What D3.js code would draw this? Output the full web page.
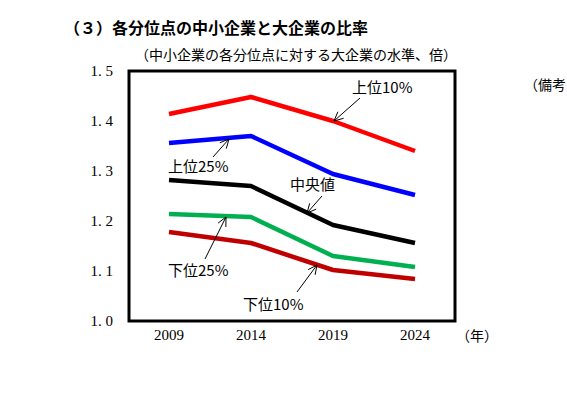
<!DOCTYPE html>
<html>
<head>
<meta charset="utf-8">
<style>
body { margin: 0; background: #fff; }
text { font-family: "Noto Sans CJK JP", sans-serif; }
.num { font-family: "Liberation Serif", "DejaVu Serif", serif; font-size: 15px; }
</style>
</head>
<body>
<div id="chart"></div>
<script src="https://d3js.org/d3.v7.min.js"></script>
<script>
var years = ["2009", "2014", "2019", "2024"];
var top10 = [1.414, 1.448, 1.400, 1.340];
var top25 = [1.356, 1.370, 1.294, 1.252];
var median = [1.282, 1.270, 1.192, 1.156];
var bottom25 = [1.214, 1.208, 1.130, 1.108];
var bottom10 = [1.178, 1.156, 1.102, 1.084];
var yTicks = [1.0, 1.1, 1.2, 1.3, 1.4, 1.5];

var series = [
    { values: top10, color: "#ff0000" },
    { values: top25, color: "#0000ff" },
    { values: median, color: "#000000" },
    { values: bottom25, color: "#00b050" },
    { values: bottom10, color: "#c00000" }
];

var width = 567, height = 403;
var svg = d3.select("#chart").append("svg").attr("width", width).attr("height", height);

var x = d3.scalePoint().domain(years).range([169, 415]);
var y = d3.scaleLinear().domain([1.0, 1.5]).range([321, 71]);

svg.append("text").attr("x", 64).attr("y", 34)
    .style("font-size", "16px").style("font-weight", "bold")
    .text("（３）各分位点の中小企業と大企業の比率");
svg.append("text").attr("x", 135).attr("y", 60)
    .style("font-size", "14px")
    .text("（中小企業の各分位点に対する大企業の水準、倍）");
svg.append("text").attr("x", 524).attr("y", 90)
    .style("font-size", "14px").text("（備考");

// frame
svg.append("rect").attr("x", 129).attr("y", 71).attr("width", 326).attr("height", 250)
    .attr("fill", "none").attr("stroke", "#000").attr("stroke-width", 3);

yTicks.forEach(function(t) {
    svg.append("text").attr("class", "num").attr("x", 113).attr("y", y(t) + 5)
        .attr("text-anchor", "end").text(t.toFixed(1).replace(".", ". "));
});
years.forEach(function(yr) {
    svg.append("text").attr("class", "num").attr("x", x(yr)).attr("y", 340)
        .attr("text-anchor", "middle").text(yr);
});
svg.append("text").attr("x", 456).attr("y", 341).style("font-size", "14px").text("（年）");

var line = d3.line().x(function(d, i) { return x(years[i]); }).y(function(d) { return y(d); });
series.forEach(function(s) {
    svg.append("path").datum(s.values).attr("d", line)
        .attr("fill", "none").attr("stroke", s.color).attr("stroke-width", 4.5)
        .attr("stroke-linejoin", "round");
});

// annotations
function arrow(x1, y1, x2, y2) {
    svg.append("line").attr("x1", x1).attr("y1", y1).attr("x2", x2).attr("y2", y2)
        .attr("stroke", "#000").attr("stroke-width", 1);
    var a = Math.atan2(y2 - y1, x2 - x1), l = 10;
    [0.45, -0.45].forEach(function(o) {
        svg.append("line").attr("x1", x2).attr("y1", y2)
            .attr("x2", x2 - l * Math.cos(a + o)).attr("y2", y2 - l * Math.sin(a + o))
            .attr("stroke", "#000").attr("stroke-width", 1);
    });
}
function label(tx, ty, s) {
    svg.append("text").attr("x", tx).attr("y", ty).style("font-size", "15px").text(s);
}
label(352, 93, "上位10%"); arrow(360, 98, 334, 121);
label(168, 172, "上位25%"); arrow(213, 157, 229, 139);
label(290, 190, "中央値"); arrow(322, 196, 307, 213);
label(168, 276, "下位25%"); arrow(205, 259, 226, 217);
label(243, 310, "下位10%"); arrow(297, 292, 317, 265);
</script>
</body>
</html>
